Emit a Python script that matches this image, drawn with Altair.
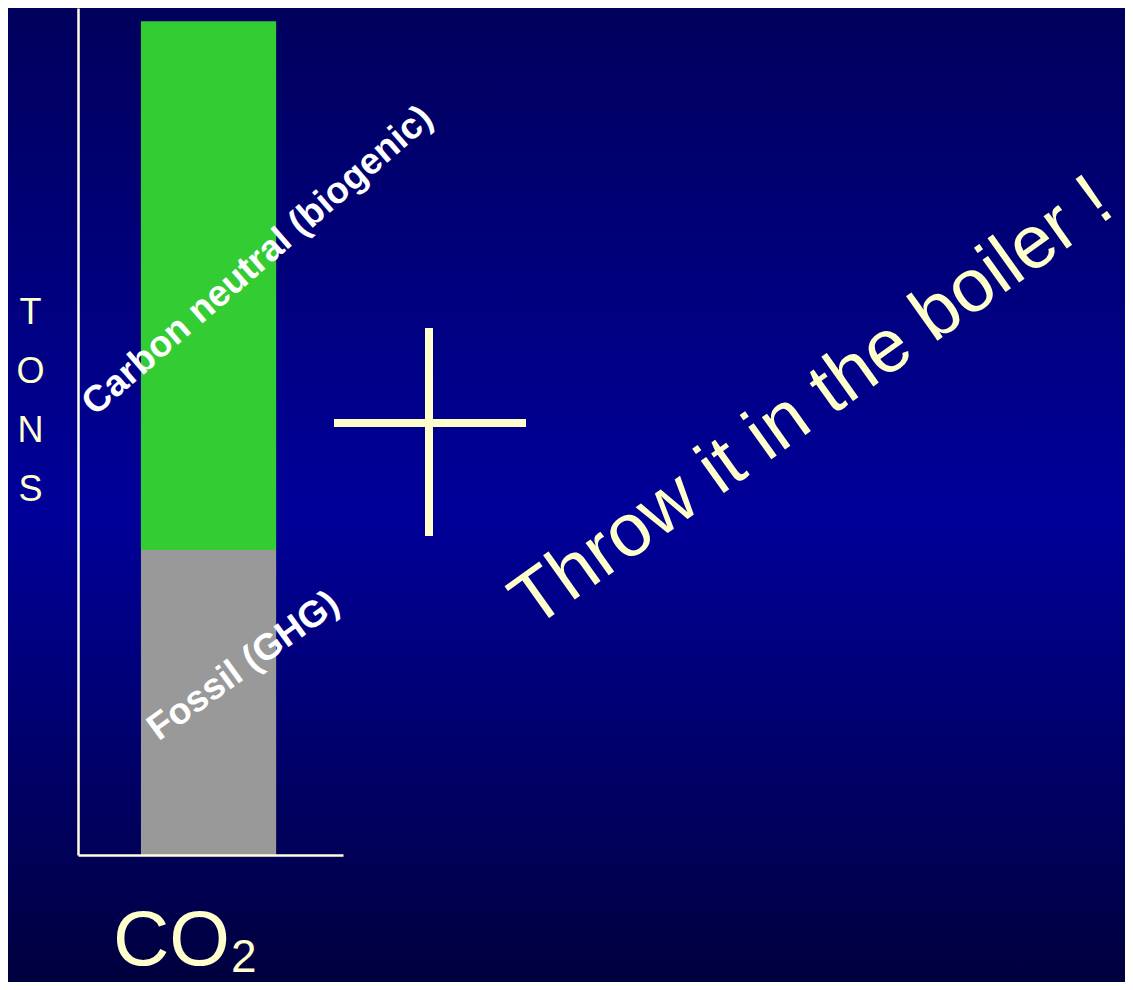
import altair as alt
import pandas as pd

# ---- data -------------------------------------------------------------
categories = ["CO2"]
sources = ["Fossil (GHG)", "Carbon neutral (biogenic)"]
tons = [36.6, 63.4]
seg_colors = ["#999999", "#33CC33"]
stack_order = [0, 1]
y_title_letters = ["T", "O", "N", "S"]
headline = ["Throw it in the boiler !"]
x_title = ["CO", "2"]

# ---- style ------------------------------------------------------------
W, H = 1117, 974
CREAM = "#FFFFCC"
LINE = "#FFFFE0"
FONT = "Liberation Sans"
bg_offsets = [0, 0.52, 1]
bg_colors = ["#00005C", "#000099", "#00003E"]

bars_df = pd.DataFrame({
    "gas": categories * len(sources),
    "source": sources,
    "tons": tons,
    "order": stack_order,
})

bg = alt.Chart(pd.DataFrame({"a": [0]})).mark_rect(
    color=alt.Gradient(
        gradient="linear",
        stops=[alt.GradientStop(offset=o, color=c) for o, c in zip(bg_offsets, bg_colors)],
        x1=0, x2=0, y1=0, y2=1,
    )
).encode(x=alt.value(0), x2=alt.value(W), y=alt.value(0), y2=alt.value(H))

bars = alt.Chart(bars_df).mark_bar().encode(
    x=alt.X(
        "gas:N",
        scale=alt.Scale(range=[70, 335], paddingOuter=0.48, paddingInner=0, align=0.485),
        axis=alt.Axis(labels=False, ticks=False, grid=False, title=None, zindex=1,
                      domainColor=LINE, domainWidth=2.5, offset=-127),
    ),
    y=alt.Y(
        "tons:Q",
        stack="zero",
        scale=alt.Scale(domain=[0, 101.6], range=[847, 0], nice=False),
        axis=alt.Axis(labels=False, ticks=False, grid=False, zindex=1,
                      domainColor=LINE, domainWidth=2.5, offset=-70,
                      title=y_title_letters, titleAngle=0, titleX=-48, titleY=304,
                      titleAlign="center", titleBaseline="middle", titleLineHeight=59,
                      titleFontSize=36, titleColor=CREAM, titleFont=FONT,
                      titleFontWeight="normal"),
    ),
    color=alt.Color("source:N", scale=alt.Scale(domain=sources, range=seg_colors), legend=None),
    order=alt.Order("order:Q", sort="ascending"),
)

plus_v = alt.Chart(pd.DataFrame({"a": [0]})).mark_rule(color=CREAM, strokeWidth=8).encode(
    x=alt.value(421), y=alt.value(320), y2=alt.value(528))
plus_h = alt.Chart(pd.DataFrame({"a": [0]})).mark_rule(color=CREAM, strokeWidth=8).encode(
    x=alt.value(326), x2=alt.value(518), y=alt.value(415))


def label(text, x, y, angle, size, color, weight="normal", align="center"):
    return alt.Chart(pd.DataFrame({"t": [text]})).mark_text(
        angle=angle, fontSize=size, font=FONT, fontWeight=weight, color=color,
        align=align, baseline="alphabetic",
    ).encode(text="t:N", x=alt.value(x), y=alt.value(y))


carbon = label(sources[1], 257, 261, 319, 37, "white", "bold")
fossil = label(sources[0], 242, 667, 324, 37, "white", "bold")
throw = label(headline[0], 817, 413, 324.5, 75, CREAM)
co = label(x_title[0], 105, 957, 0, 78, CREAM, align="left")
sub2 = label(x_title[1], 223, 964, 0, 46, CREAM, align="left")

chart = alt.layer(bg, bars, plus_v, plus_h, carbon, fossil, throw, co, sub2).properties(
    width=W, height=H, padding=0,
    autosize=alt.AutoSizeParams(type="none"),
).configure_view(stroke=None).configure(background="#000066")

chart.save("out.html", embed_options={"renderer": "svg", "actions": False})
